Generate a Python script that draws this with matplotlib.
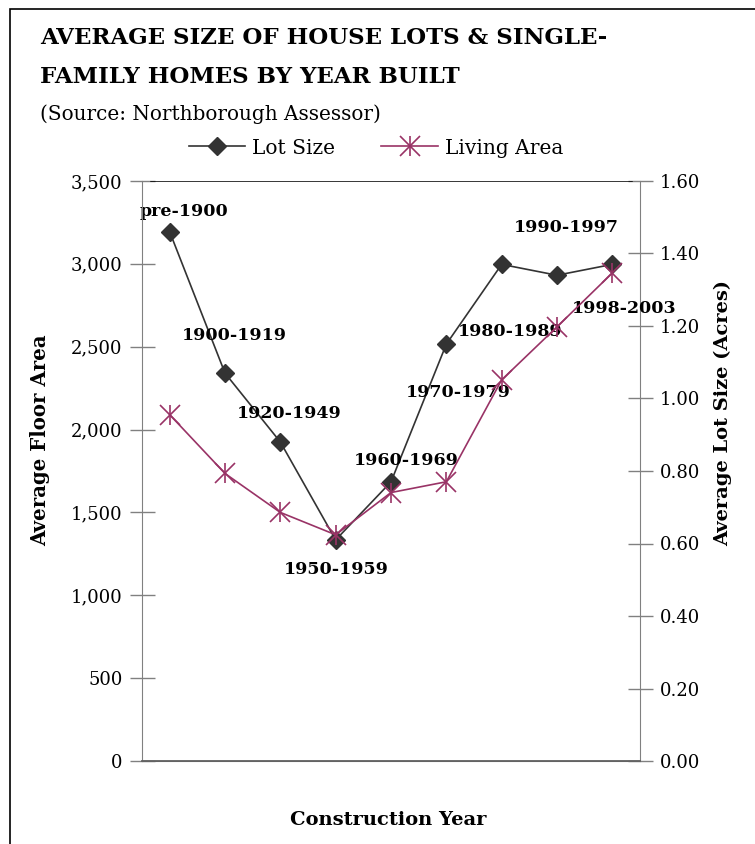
import matplotlib
matplotlib.use('Agg')
import matplotlib.pyplot as plt
import numpy as np
from matplotlib.patches import Rectangle

periods = ['pre-1900', '1900-1919', '1920-1949', '1950-1959', '1960-1969',
           '1970-1979', '1980-1989', '1990-1997', '1998-2003']
lot_size = [1.46, 1.07, 0.88, 0.61, 0.77, 1.15, 1.37, 1.34, 1.37]
living_area = [2090, 1735, 1500, 1365, 1620, 1685, 2300, 2620, 2945]

# label offsets from the lot size point, in pixels
label_offsets = [(14, 20), (9, 38), (9, 28), (1, -30), (15, 21),
                 (12, -48), (9, -67), (9, 48), (12, -44)]

plt.rcParams['font.family'] = ['DejaVu Serif']

W, H = 755, 844
fig = plt.figure(figsize=(W / 100, H / 100), dpi=100)

ax = fig.add_axes([142 / W, 83 / H, 498 / W, 580 / H])
ax2 = ax.twinx()
ax.set_zorder(ax2.get_zorder() + 1)
ax.patch.set_visible(False)

x = np.arange(len(periods)) + 0.5
grey = '#808080'
dark = '#333333'
plum = '#993366'

ax.set_xlim(0, len(periods))
ax.set_ylim(0, 3500)
ax2.set_ylim(0, 1.6)

ax2.set_xticks(np.arange(1, len(periods) + 1))
ax2.grid(axis='x', color=grey, lw=1)
ax2.grid(axis='y', visible=False)
ax.tick_params(axis='x', length=0, labelbottom=False)
ax2.tick_params(axis='x', length=0, labelbottom=False)

ax.set_yticks(np.arange(0, 3501, 500))
ax.set_yticklabels([f'{v:,}' for v in range(0, 3501, 500)])
ax2.set_yticks(np.arange(0, 1.61, 0.2))
ax2.set_yticklabels([f'{v:.2f}' for v in np.arange(0, 1.61, 0.2)])
for a in (ax, ax2):
    a.tick_params(axis='y', direction='inout', length=18, width=1, color=grey,
                  labelsize=13, pad=5)
    for s in a.spines.values():
        s.set_color(grey)
    a.spines['top'].set_visible(False)
ax.spines['right'].set_visible(False)
ax2.spines['left'].set_visible(False)
ax.spines['bottom'].set_color('#606060')
ax.spines['bottom'].set_linewidth(1.3)

ax.axhline(3500, xmin=0.018, xmax=0.984, color='black', lw=1.1)

lot_line, = ax2.plot(x, lot_size, color=dark, lw=1.2, marker='D', ms=9,
                     mfc=dark, mec=dark, label='Lot Size')
for i, p in enumerate(periods):
    ax2.annotate(p, (x[i], lot_size[i]), xytext=label_offsets[i],
                 textcoords='offset pixels', ha='center', va='center',
                 fontsize=12.5, fontweight='bold', color='black')

liv_line, = ax.plot(x, living_area, color=plum, lw=1.2, marker='x', ms=14,
                    mew=1.2)
liv_bar, = ax.plot(x, living_area, color=plum, lw=0, marker='|', ms=14,
                   mew=1.2)

fig.text(40 / W, 1 - 38 / H, 'AVERAGE SIZE OF HOUSE LOTS & SINGLE-',
         fontsize=16.5, fontweight='bold', va='center', ha='left')
fig.text(40 / W, 1 - 77 / H, 'FAMILY HOMES BY YEAR BUILT',
         fontsize=16.5, fontweight='bold', va='center', ha='left')
fig.text(40 / W, 1 - 114 / H, '(Source: Northborough Assessor)',
         fontsize=14.4, va='center', ha='left')

fig.legend([lot_line, (liv_line, liv_bar)], ['Lot Size', 'Living Area'],
           loc='center', bbox_to_anchor=(376 / W, 1 - 148 / H), ncol=2,
           frameon=False, fontsize=14.5, handlelength=2.8, handletextpad=0.35,
           columnspacing=2.3, borderpad=0, borderaxespad=0)

fig.text(40 / W, 1 - 440 / H, 'Average Floor Area', rotation=90,
         fontsize=14.2, fontweight='bold', va='center', ha='center')
fig.text(723 / W, 1 - 413 / H, 'Average Lot Size (Acres)', rotation=90,
         fontsize=14, fontweight='bold', va='center', ha='center')
fig.text(388 / W, 1 - 820 / H, 'Construction Year',
         fontsize=14, fontweight='bold', va='center', ha='center')

fig.patches.append(Rectangle((10 / W, -0.1), 1.2, 1.1 - 9 / H,
                             transform=fig.transFigure, fill=False,
                             ec='black', lw=1.2, clip_on=False))

fig.savefig('out.png', dpi=100)
